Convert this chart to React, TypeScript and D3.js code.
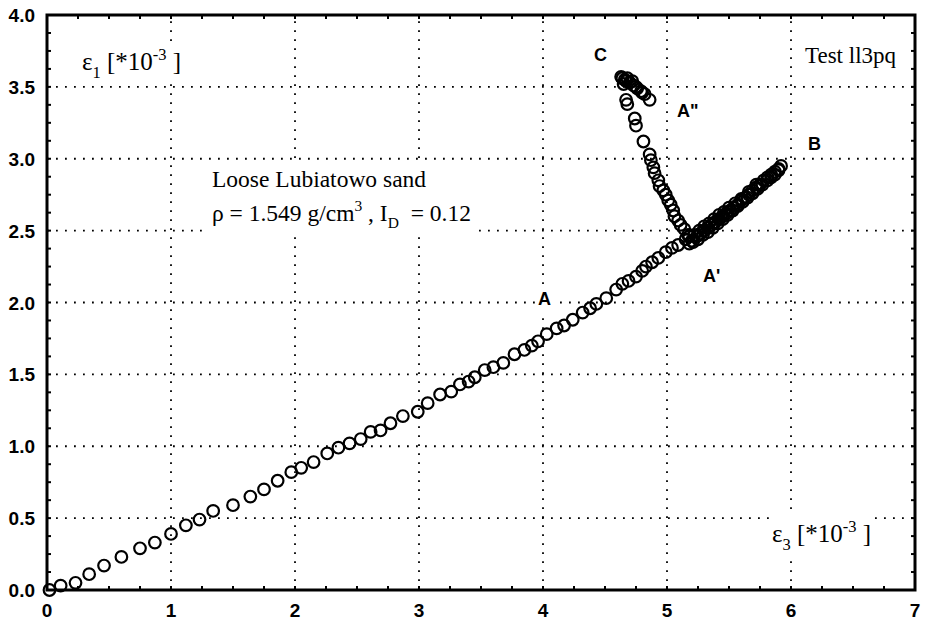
import React, { useEffect, useRef } from 'react';
import * as d3 from 'd3';

// eps3, eps1 readings [*10^-3]
const loadingOA = [
  [0.02, 0.0], [0.11, 0.03], [0.23, 0.05], [0.34, 0.11], [0.46, 0.17], [0.6, 0.23],
  [0.75, 0.29], [0.87, 0.33], [1.0, 0.39], [1.12, 0.45], [1.23, 0.49], [1.34, 0.55],
  [1.5, 0.59], [1.64, 0.65], [1.75, 0.7], [1.86, 0.76], [1.97, 0.82], [2.05, 0.85],
  [2.15, 0.89], [2.26, 0.95], [2.35, 0.99], [2.44, 1.02], [2.53, 1.05], [2.61, 1.1],
  [2.69, 1.11], [2.77, 1.16], [2.87, 1.21], [2.99, 1.24], [3.07, 1.3], [3.17, 1.36],
  [3.26, 1.38], [3.33, 1.43], [3.4, 1.45], [3.45, 1.48], [3.53, 1.53], [3.6, 1.55],
  [3.68, 1.58], [3.77, 1.64], [3.85, 1.67], [3.91, 1.7], [3.96, 1.73], [4.03, 1.78],
  [4.11, 1.82], [4.17, 1.84], [4.24, 1.88], [4.32, 1.93], [4.38, 1.96], [4.43, 1.99],
  [4.51, 2.03], [4.59, 2.09], [4.64, 2.13], [4.69, 2.15], [4.75, 2.18], [4.8, 2.22],
  [4.83, 2.25], [4.88, 2.28], [4.93, 2.31], [4.99, 2.35], [5.04, 2.38], [5.09, 2.4],
  [5.15, 2.44], [5.18, 2.46],
];

const branchAB = [
  [5.2, 2.43], [5.24, 2.46], [5.27, 2.48], [5.3, 2.5], [5.33, 2.52], [5.36, 2.54],
  [5.39, 2.56], [5.42, 2.58], [5.45, 2.6], [5.48, 2.62], [5.51, 2.64], [5.54, 2.66],
  [5.57, 2.68], [5.6, 2.71], [5.63, 2.73], [5.66, 2.75], [5.69, 2.78], [5.72, 2.8],
  [5.75, 2.82], [5.78, 2.85], [5.81, 2.87], [5.84, 2.89], [5.87, 2.91], [5.9, 2.93],
  [5.92, 2.95],
];

const branchBA = [
  [5.9, 2.92], [5.87, 2.89], [5.84, 2.87], [5.81, 2.85], [5.77, 2.82], [5.73, 2.79],
  [5.69, 2.76], [5.65, 2.73], [5.61, 2.7], [5.57, 2.67], [5.53, 2.64], [5.49, 2.61],
  [5.45, 2.58], [5.41, 2.55], [5.37, 2.52], [5.33, 2.49], [5.29, 2.47], [5.25, 2.44],
  [5.21, 2.42], [5.18, 2.41],
];

const reloadAB = [
  [5.22, 2.47], [5.26, 2.5], [5.3, 2.53], [5.34, 2.55], [5.38, 2.58], [5.42, 2.61],
  [5.46, 2.63], [5.5, 2.66], [5.55, 2.69], [5.6, 2.72], [5.66, 2.77], [5.72, 2.82],
];

const branchAC = [
  [5.17, 2.47], [5.14, 2.51], [5.11, 2.54], [5.09, 2.57], [5.06, 2.6], [5.05, 2.64],
  [5.03, 2.68], [5.01, 2.71], [4.99, 2.75], [4.97, 2.78], [4.94, 2.81], [4.93, 2.85],
  [4.9, 2.9], [4.89, 2.94], [4.87, 2.99], [4.86, 3.03], [4.81, 3.12], [4.75, 3.23],
  [4.74, 3.28], [4.68, 3.38], [4.67, 3.41],
];

const clusterCA = [
  [4.63, 3.57], [4.64, 3.56], [4.65, 3.52], [4.66, 3.55], [4.68, 3.56], [4.7, 3.53],
  [4.72, 3.54], [4.73, 3.51], [4.76, 3.49], [4.79, 3.47], [4.82, 3.45], [4.86, 3.41],
  [4.67, 3.54], [4.75, 3.5], [4.8, 3.46],
];

const xTicks = [0, 1, 2, 3, 4, 5, 6, 7];
const yTicks = [0, 0.5, 1, 1.5, 2, 2.5, 3, 3.5, 4];

type Seg = { t: string; sub?: boolean; sup?: boolean };
const notes: { x: number; y: number; size: number; font: string; bold?: boolean; segs: Seg[] }[] = [
  { x: 82, y: 70, size: 25, font: 'Liberation Serif', segs: [{ t: 'ε' }, { t: '1', sub: true }, { t: '\u00a0[*10' }, { t: '-3', sup: true }, { t: '\u00a0]' }] },
  { x: 772, y: 542, size: 25, font: 'Liberation Serif', segs: [{ t: 'ε' }, { t: '3', sub: true }, { t: '\u00a0[*10' }, { t: '-3', sup: true }, { t: '\u00a0]' }] },
  { x: 805, y: 63, size: 23, font: 'Liberation Serif', segs: [{ t: 'Test ll3pq' }] },
  { x: 212, y: 187, size: 23.5, font: 'Liberation Serif', segs: [{ t: 'Loose Lubiatowo sand' }] },
  { x: 212, y: 221, size: 23.5, font: 'Liberation Serif', segs: [{ t: 'ρ = 1.549 g/cm' }, { t: '3', sup: true }, { t: '\u00a0, I' }, { t: 'D', sub: true }, { t: '\u00a0\u00a0= 0.12' }] },
  { x: 594, y: 61, size: 18, font: 'Liberation Sans', bold: true, segs: [{ t: 'C' }] },
  { x: 677, y: 117, size: 18, font: 'Liberation Sans', bold: true, segs: [{ t: 'A"' }] },
  { x: 808, y: 150, size: 18, font: 'Liberation Sans', bold: true, segs: [{ t: 'B' }] },
  { x: 703, y: 282, size: 18, font: 'Liberation Sans', bold: true, segs: [{ t: "A'" }] },
  { x: 538, y: 305, size: 18, font: 'Liberation Sans', bold: true, segs: [{ t: 'A' }] },
];

const StrainPlot = () => {
  const svgRef = useRef<SVGSVGElement>(null);

  useEffect(() => {
    const svg = d3.select(svgRef.current);
    svg.selectAll('*').remove();

    const left = 47, right = 915, top = 15, bottom = 590;
    const x = d3.scaleLinear().domain([0, 7]).range([left, right]);
    const y = d3.scaleLinear().domain([0, 4]).range([bottom, top]);

    svg.append('rect').attr('width', 935).attr('height', 624).attr('fill', '#fff');

    // dotted grid
    const grid = svg.append('g').attr('stroke', '#000').attr('stroke-width', 1.8)
      .attr('stroke-dasharray', '1.8 7.2');
    grid.selectAll('.gx').data(xTicks.slice(1, -1)).join('line')
      .attr('x1', (d) => x(d)).attr('x2', (d) => x(d)).attr('y1', bottom).attr('y2', top);
    grid.selectAll('.gy').data(yTicks.slice(1, -1)).join('line')
      .attr('y1', (d) => y(d)).attr('y2', (d) => y(d)).attr('x1', left).attr('x2', right);

    // labels with white boxes that hide the grid
    const noteG = svg.append('g');
    notes.forEach((n) => {
      const g = noteG.append('g');
      const txt = g.append('text').attr('x', n.x).attr('y', n.y)
        .attr('font-family', n.font).attr('font-size', n.size).attr('fill', '#000')
        .attr('font-weight', n.bold ? 'bold' : 'normal');
      let shift = 0;
      n.segs.forEach((s) => {
        const target = s.sub ? n.size * 0.3 : s.sup ? -n.size * 0.42 : 0;
        txt.append('tspan').attr('dy', target - shift)
          .attr('font-size', s.sub || s.sup ? n.size * 0.66 : n.size).text(s.t);
        shift = target;
      });
      const bb = (txt.node() as SVGTextElement).getBBox();
      g.insert('rect', 'text').attr('x', bb.x - 3).attr('y', bb.y - 2)
        .attr('width', bb.width + 6).attr('height', bb.height + 4).attr('fill', '#fff');
    });

    // points
    const pts = [...loadingOA, ...branchAB, ...branchBA, ...reloadAB, ...branchAC, ...clusterCA];
    svg.append('g').selectAll('circle').data(pts).join('circle')
      .attr('cx', (d) => x(d[0])).attr('cy', (d) => y(d[1])).attr('r', 5.8)
      .attr('fill', 'none').attr('stroke', '#000').attr('stroke-width', 2.2);

    // minor ticks inward on all sides
    const ticks = svg.append('g').attr('stroke', '#000').attr('stroke-width', 2);
    const xm = d3.range(0, 7.001, 0.25);
    const ym = d3.range(0, 4.001, 0.125);
    ticks.selectAll('.tb').data(xm).join('line').attr('x1', (d) => x(d)).attr('x2', (d) => x(d))
      .attr('y1', bottom).attr('y2', bottom - 4);
    ticks.selectAll('.tt').data(xm).join('line').attr('x1', (d) => x(d)).attr('x2', (d) => x(d))
      .attr('y1', top).attr('y2', top + 4);
    ticks.selectAll('.tl').data(ym).join('line').attr('y1', (d) => y(d)).attr('y2', (d) => y(d))
      .attr('x1', left).attr('x2', left + 4);
    ticks.selectAll('.tr').data(ym).join('line').attr('y1', (d) => y(d)).attr('y2', (d) => y(d))
      .attr('x1', right).attr('x2', right - 4);

    // frame
    svg.append('rect').attr('x', left).attr('y', top).attr('width', right - left)
      .attr('height', bottom - top).attr('fill', 'none').attr('stroke', '#000').attr('stroke-width', 3);

    // tick labels
    svg.append('g').selectAll('text').data(xTicks).join('text')
      .attr('x', (d) => x(d)).attr('y', 617).attr('text-anchor', 'middle')
      .attr('font-family', 'Liberation Sans').attr('font-size', 19).attr('font-weight', 'bold')
      .text((d) => String(d));
    svg.append('g').selectAll('text').data(yTicks).join('text')
      .attr('x', 35).attr('y', (d) => y(d) + 7).attr('text-anchor', 'end')
      .attr('font-family', 'Liberation Sans').attr('font-size', 19).attr('font-weight', 'bold')
      .text((d) => d.toFixed(1));
  }, []);

  return <svg ref={svgRef} width={935} height={624} style={{ position: 'absolute', left: 0, top: 0 }} />;
};

export default function App() {
  return <StrainPlot />;
}
